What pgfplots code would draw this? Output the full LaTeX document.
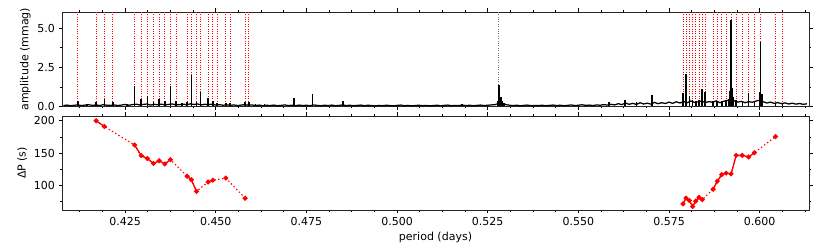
\documentclass[border=0pt]{standalone}
\usepackage{fontspec}
\setmainfont{DejaVu Sans}
\usepackage{pgfplots}
\pgfplotsset{compat=1.18}
\definecolor{guidegray}{RGB}{110,110,110}
\begin{document}
\begin{tikzpicture}
\useasboundingbox (0,0) rectangle (830pt,248pt);
\pgfplotsset{
  common/.style={
    scale only axis, width=747pt,
    xmin=0.4076, xmax=0.6136,
    tick align=outside,
    major tick length=3.5pt, minor tick length=2pt,
    xtick={0.425,0.45,0.475,0.5,0.525,0.55,0.575,0.6},
    minor xtick={0.4125,0.41875,0.43125,0.4375,0.44375,0.45625,0.4625,0.46875,0.48125,0.4875,0.49375,0.50625,0.5125,0.51875,0.53125,0.5375,0.54375,0.55625,0.5625,0.56875,0.58125,0.5875,0.59375,0.60625,0.6125},
    every tick/.style={black, line width=0.6pt},
    axis line style={line width=0.7pt, black!85},
    tick label style={font=\fontsize{11}{13}\selectfont},
    label style={font=\fontsize{11}{13}\selectfont},
    /pgf/number format/assume math mode=true,
    clip=true,
  }
}
% ---------------- top panel: periodogram ----------------
\begin{axis}[common, at={(62pt,141.5pt)}, anchor=south west, height=94.5pt,
  ymin=0, ymax=6.03, ytick={0,2.5,5}, yticklabels={0.0,2.5,5.0}, minor ytick={1.25,3.75},
  xticklabels={}, ylabel={amplitude (mmag)}]
% mode periods (red dotted)
\addplot[ycomb, red, line width=0.9pt, dash pattern=on 1pt off 1.4pt, mark=none] coordinates {
(0.41195,6.2) (0.41700,6.2) (0.41929,6.2) (0.42161,6.2) (0.42762,6.2) (0.42944,6.2) (0.43115,6.2) (0.43281,6.2) (0.43438,6.2) (0.43595,6.2) (0.43750,6.2) (0.43907,6.2) (0.44210,6.2) (0.44329,6.2) (0.44467,6.2) (0.44577,6.2) (0.44790,6.2) (0.44919,6.2) (0.45038,6.2) (0.45278,6.2) (0.45397,6.2) (0.45810,6.2) (0.45912,6.2)
(0.57885,6.2) (0.57968,6.2) (0.58059,6.2) (0.58150,6.2) (0.58238,6.2) (0.58326,6.2) (0.58417,6.2) (0.58500,6.2) (0.58715,6.2) (0.58831,6.2) (0.58955,6.2) (0.59074,6.2) (0.59212,6.2) (0.59350,6.2) (0.59521,6.2) (0.59695,6.2) (0.59852,6.2) (0.60026,6.2) (0.60437,6.2) (0.60630,6.2)
};
% gray guide line
\addplot[draw=guidegray, line width=0.9pt, dash pattern=on 1pt off 1.4pt, mark=none] coordinates {(0.52809,0) (0.52809,6.2)};
% baseline noise
\addplot[black, line width=1.25pt, mark=none] coordinates {
(0.408,0.06) (0.409,0.09) (0.410,0.05) (0.411,0.08) (0.412,0.10) (0.413,0.06) (0.414,0.09) (0.415,0.11) (0.416,0.07) (0.417,0.10)
(0.418,0.06) (0.419,0.12) (0.420,0.08) (0.421,0.07) (0.422,0.10) (0.423,0.06) (0.424,0.09) (0.425,0.13) (0.426,0.08) (0.427,0.12)
(0.428,0.15) (0.429,0.10) (0.430,0.13) (0.431,0.16) (0.432,0.09) (0.433,0.14) (0.434,0.11) (0.435,0.15) (0.436,0.10) (0.437,0.13)
(0.438,0.16) (0.439,0.10) (0.440,0.12) (0.441,0.15) (0.442,0.11) (0.443,0.17) (0.444,0.13) (0.445,0.16) (0.446,0.10) (0.447,0.14)
(0.448,0.12) (0.449,0.15) (0.450,0.09) (0.451,0.12) (0.452,0.08) (0.453,0.11) (0.454,0.07) (0.455,0.10) (0.456,0.06) (0.457,0.09)
(0.458,0.12) (0.459,0.08) (0.460,0.10) (0.461,0.06) (0.462,0.09) (0.463,0.05) (0.464,0.08) (0.465,0.06) (0.466,0.09) (0.467,0.05)
(0.468,0.07) (0.469,0.10) (0.470,0.06) (0.471,0.08) (0.472,0.05) (0.473,0.09) (0.474,0.06) (0.475,0.08) (0.476,0.05) (0.477,0.10)
(0.478,0.07) (0.479,0.05) (0.480,0.08) (0.481,0.06) (0.482,0.09) (0.483,0.05) (0.484,0.07) (0.485,0.10) (0.486,0.06) (0.487,0.08)
(0.488,0.05) (0.489,0.07) (0.490,0.09) (0.491,0.05) (0.492,0.08) (0.493,0.06) (0.494,0.04) (0.495,0.07) (0.496,0.05) (0.497,0.08)
(0.498,0.06) (0.499,0.04) (0.500,0.07) (0.501,0.09) (0.502,0.05) (0.503,0.07) (0.504,0.04) (0.505,0.06) (0.506,0.08) (0.507,0.05)
(0.508,0.07) (0.509,0.04) (0.510,0.06) (0.511,0.08) (0.512,0.05) (0.513,0.07) (0.514,0.09) (0.515,0.05) (0.516,0.07) (0.517,0.06)
(0.518,0.09) (0.519,0.06) (0.520,0.08) (0.521,0.05) (0.522,0.07) (0.523,0.09) (0.524,0.06) (0.525,0.08) (0.526,0.10) (0.527,0.12)
(0.528,0.20) (0.529,0.22) (0.530,0.12) (0.531,0.08) (0.532,0.06) (0.533,0.08) (0.534,0.05) (0.535,0.07) (0.536,0.09) (0.537,0.05)
(0.538,0.07) (0.539,0.06) (0.540,0.08) (0.541,0.05) (0.542,0.07) (0.543,0.09) (0.544,0.06) (0.545,0.08) (0.546,0.05) (0.547,0.07)
(0.548,0.10) (0.549,0.06) (0.550,0.08) (0.551,0.11) (0.552,0.07) (0.553,0.09) (0.554,0.06) (0.555,0.10) (0.556,0.08) (0.557,0.12)
(0.558,0.09) (0.559,0.14) (0.560,0.10) (0.561,0.18) (0.562,0.12) (0.563,0.22) (0.564,0.14) (0.565,0.20) (0.566,0.13) (0.567,0.24)
(0.568,0.16) (0.569,0.21) (0.570,0.15) (0.571,0.26) (0.572,0.18) (0.573,0.24) (0.574,0.19) (0.575,0.28) (0.576,0.20) (0.577,0.30)
(0.578,0.22) (0.579,0.32) (0.580,0.24) (0.581,0.35) (0.582,0.26) (0.583,0.30) (0.584,0.34) (0.585,0.25) (0.586,0.31) (0.587,0.27)
(0.588,0.36) (0.589,0.24) (0.590,0.33) (0.591,0.38) (0.592,0.45) (0.593,0.36) (0.594,0.28) (0.595,0.33) (0.596,0.24) (0.597,0.31)
(0.598,0.27) (0.599,0.35) (0.600,0.40) (0.601,0.30) (0.602,0.22) (0.603,0.28) (0.604,0.20) (0.605,0.25) (0.606,0.18) (0.607,0.23)
(0.608,0.16) (0.609,0.21) (0.610,0.15) (0.611,0.19) (0.612,0.14) (0.613,0.17)
};
% peaks
\addplot[ycomb, black, line width=1.6pt, mark=none] coordinates {
(0.41195,0.38) (0.41452,0.13) (0.41700,0.30) (0.41929,0.47) (0.42161,0.28) (0.42555,0.18)
(0.42762,1.28) (0.42944,0.51) (0.43115,0.64) (0.43281,0.30) (0.43438,0.48) (0.43595,0.36)
(0.43750,1.32) (0.43907,0.38) (0.44072,0.20) (0.44210,0.30) (0.44329,2.02) (0.44467,0.30)
(0.44577,0.93) (0.44790,0.55) (0.44919,0.36) (0.45038,0.22) (0.45278,0.22) (0.45397,0.22)
(0.45810,0.30) (0.45912,0.28) (0.46095,0.18) (0.46343,0.18)
(0.47154,0.55) (0.47667,0.77) (0.48514,0.36) (0.51797,0.15)
(0.52790,0.35) (0.52809,1.37) (0.52830,1.00) (0.52860,0.60) (0.52900,0.35) (0.52950,0.20)
(0.55845,0.30) (0.56278,0.40) (0.56600,0.30) (0.57023,0.72)
(0.57885,0.85) (0.57968,2.07) (0.58059,0.66) (0.58150,0.40) (0.58238,0.36) (0.58326,0.40)
(0.58417,1.12) (0.58500,0.94) (0.58715,0.35) (0.58831,0.35) (0.58955,0.35) (0.59074,0.40)
(0.59150,0.50) (0.59180,1.00) (0.59212,5.53) (0.59250,1.20) (0.59280,0.60)
(0.59350,0.40) (0.59521,0.35) (0.59695,0.83) (0.59852,0.30)
(0.59990,0.90) (0.60026,4.14) (0.60060,0.80) (0.60437,0.25) (0.60630,0.20)
};
\end{axis}
% ---------------- bottom panel: period spacing ----------------
\begin{axis}[common, at={(62pt,38pt)}, anchor=south west, height=94pt,
  ymin=62, ymax=207.3, ytick={100,150,200}, yticklabels={100,150,200}, minor ytick={75,125,175},
  xticklabels={0.425,0.450,0.475,0.500,0.525,0.550,0.575,0.600},
  ylabel={ΔP (s)}, xlabel={period (days)}, unbounded coords=jump]
\addplot[red, line width=1.1pt, dash pattern=on 1.4pt off 2.4pt, mark=none] coordinates {
(0.41700,200) (0.41929,191) (0.42762,162.5) (0.42944,146) (0.43115,141.5) (0.43281,134) (0.43438,138) (0.43595,133.2) (0.43750,139.8)
(0.44210,114.2) (0.44329,108.8) (0.44467,90.8) (0.44790,105.3) (0.44919,108.1) (0.45278,111.3) (0.45810,80.2)
};
\addplot[red, line width=1.1pt, dash pattern=on 1.4pt off 2.4pt, mark=none] coordinates {
(0.57885,71.5) (0.57968,80.5) (0.58059,76.7) (0.58150,67.5) (0.58238,75.7) (0.58326,81.4) (0.58417,78.0)
(0.58715,94.0) (0.58831,106.5) (0.58955,116.7) (0.59074,119.0) (0.59212,117.8) (0.59350,146.4) (0.59521,146.4) (0.59695,144.0) (0.59852,150.5) (0.60437,175.5)
};
\addplot[red, line width=1.3pt, mark=*, mark size=1.8pt, mark options={solid, fill=red, draw=red}] coordinates {
(0.41700,200) (0.41929,191) (0.42,nan)
(0.42762,162.5) (0.42944,146) (0.43115,141.5) (0.43281,134) (0.43438,138) (0.43595,133.2) (0.43750,139.8) (0.44,nan)
(0.44210,114.2) (0.44329,108.8) (0.44467,90.8) (0.446,nan)
(0.44790,105.3) (0.44919,108.1) (0.450,nan)
(0.45278,111.3) (0.455,nan)
(0.45810,80.2) (0.46,nan)
(0.57885,71.5) (0.57968,80.5) (0.58059,76.7) (0.58150,67.5) (0.58238,75.7) (0.58326,81.4) (0.58417,78.0) (0.585,nan)
(0.58715,94.0) (0.58831,106.5) (0.58955,116.7) (0.59074,119.0) (0.59212,117.8) (0.59350,146.4) (0.59521,146.4) (0.59695,144.0) (0.59852,150.5) (0.600,nan)
(0.60437,175.5)
};
\end{axis}
\end{tikzpicture}
\end{document}
